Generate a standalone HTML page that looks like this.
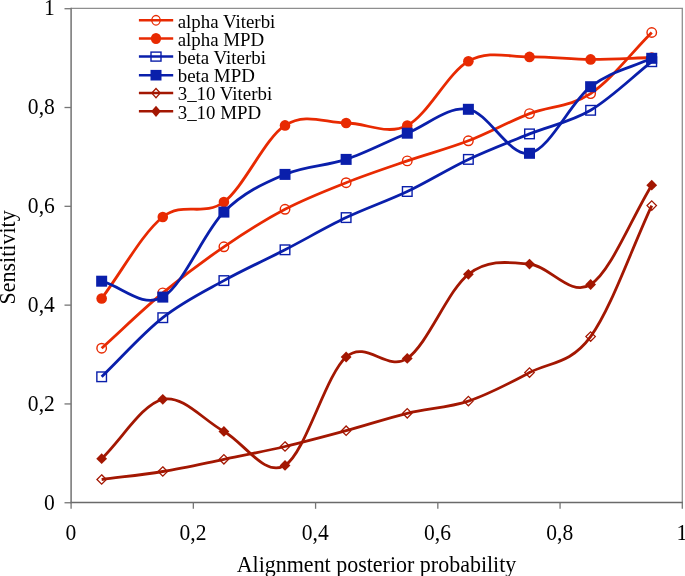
<!DOCTYPE html>
<html><head><meta charset="utf-8"><style>
html,body{margin:0;padding:0;background:#fff;}
body{width:685px;height:576px;overflow:hidden;}
svg{display:block;font-family:"Liberation Serif",serif;will-change:transform;}
</style></head><body>
<svg width="685" height="576" viewBox="0 0 685 576">

<line x1="71.1" y1="8.45" x2="683.0" y2="8.45" stroke="#8e8e8e" stroke-width="1.3"/>
<line x1="682.3" y1="8.45" x2="682.3" y2="502.5" stroke="#8e8e8e" stroke-width="1.3"/>
<line x1="71.1" y1="7.85" x2="71.1" y2="503.3" stroke="#727272" stroke-width="1.5"/>
<line x1="70.39999999999999" y1="502.5" x2="683.0" y2="502.5" stroke="#6a6a6a" stroke-width="1.6"/>
<line x1="64.5" y1="502.75" x2="71.10" y2="502.75" stroke="#767676" stroke-width="1.3"/>
<text transform="translate(54.8 509.50) scale(0.98 1.075)" font-size="22" text-anchor="end" fill="#000">0</text>
<line x1="64.5" y1="403.94" x2="71.10" y2="403.94" stroke="#767676" stroke-width="1.3"/>
<text transform="translate(54.8 410.69) scale(0.98 1.075)" font-size="22" text-anchor="end" fill="#000">0,2</text>
<line x1="64.5" y1="305.13" x2="71.10" y2="305.13" stroke="#767676" stroke-width="1.3"/>
<text transform="translate(54.8 311.88) scale(0.98 1.075)" font-size="22" text-anchor="end" fill="#000">0,4</text>
<line x1="64.5" y1="206.32" x2="71.10" y2="206.32" stroke="#767676" stroke-width="1.3"/>
<text transform="translate(54.8 213.07) scale(0.98 1.075)" font-size="22" text-anchor="end" fill="#000">0,6</text>
<line x1="64.5" y1="107.51" x2="71.10" y2="107.51" stroke="#767676" stroke-width="1.3"/>
<text transform="translate(54.8 114.26) scale(0.98 1.075)" font-size="22" text-anchor="end" fill="#000">0,8</text>
<line x1="64.5" y1="8.70" x2="71.10" y2="8.70" stroke="#767676" stroke-width="1.3"/>
<text transform="translate(54.8 15.45) scale(0.98 1.075)" font-size="22" text-anchor="end" fill="#000">1</text>
<line x1="71.10" y1="502.50" x2="71.10" y2="508.8" stroke="#767676" stroke-width="1.3"/>
<text transform="translate(70.80 540.2) scale(0.98 1.075)" font-size="22" text-anchor="middle" fill="#000">0</text>
<line x1="193.34" y1="502.50" x2="193.34" y2="508.8" stroke="#767676" stroke-width="1.3"/>
<text transform="translate(193.04 540.2) scale(0.98 1.075)" font-size="22" text-anchor="middle" fill="#000">0,2</text>
<line x1="315.58" y1="502.50" x2="315.58" y2="508.8" stroke="#767676" stroke-width="1.3"/>
<text transform="translate(315.28 540.2) scale(0.98 1.075)" font-size="22" text-anchor="middle" fill="#000">0,4</text>
<line x1="437.82" y1="502.50" x2="437.82" y2="508.8" stroke="#767676" stroke-width="1.3"/>
<text transform="translate(437.52 540.2) scale(0.98 1.075)" font-size="22" text-anchor="middle" fill="#000">0,6</text>
<line x1="560.06" y1="502.50" x2="560.06" y2="508.8" stroke="#767676" stroke-width="1.3"/>
<text transform="translate(559.76 540.2) scale(0.98 1.075)" font-size="22" text-anchor="middle" fill="#000">0,8</text>
<line x1="682.30" y1="502.50" x2="682.30" y2="508.8" stroke="#767676" stroke-width="1.3"/>
<text transform="translate(682.00 540.2) scale(0.98 1.075)" font-size="22" text-anchor="middle" fill="#000">1</text>
<text transform="translate(376.5 572.0) scale(1 1.08)" font-size="22" text-anchor="middle" fill="#000">Alignment posterior probability</text>
<text transform="translate(15.3 257.4) rotate(-90) scale(1 1.06)" font-size="22" text-anchor="middle" fill="#000">Sensitivity</text>
<path d="M101.66 348.20 C122.03 329.77 142.41 309.80 162.78 292.90 C183.15 276.00 203.53 260.73 223.90 246.80 C244.27 232.87 264.65 219.98 285.02 209.30 C305.39 198.62 325.77 190.77 346.14 182.70 C366.51 174.63 386.89 167.88 407.26 160.90 C427.63 153.92 448.01 148.68 468.38 140.80 C488.75 132.92 509.13 121.47 529.50 113.60 C549.87 105.73 570.25 107.12 590.62 93.60 C610.99 80.08 631.37 52.87 651.74 32.50" fill="none" stroke="#e82a02" stroke-width="2.8" stroke-linejoin="round"/>
<circle cx="101.66" cy="348.20" r="4.75" fill="none" stroke="#e82a02" stroke-width="1.4"/>
<circle cx="162.78" cy="292.90" r="4.75" fill="none" stroke="#e82a02" stroke-width="1.4"/>
<circle cx="223.90" cy="246.80" r="4.75" fill="none" stroke="#e82a02" stroke-width="1.4"/>
<circle cx="285.02" cy="209.30" r="4.75" fill="none" stroke="#e82a02" stroke-width="1.4"/>
<circle cx="346.14" cy="182.70" r="4.75" fill="none" stroke="#e82a02" stroke-width="1.4"/>
<circle cx="407.26" cy="160.90" r="4.75" fill="none" stroke="#e82a02" stroke-width="1.4"/>
<circle cx="468.38" cy="140.80" r="4.75" fill="none" stroke="#e82a02" stroke-width="1.4"/>
<circle cx="529.50" cy="113.60" r="4.75" fill="none" stroke="#e82a02" stroke-width="1.4"/>
<circle cx="590.62" cy="93.60" r="4.75" fill="none" stroke="#e82a02" stroke-width="1.4"/>
<circle cx="651.74" cy="32.50" r="4.75" fill="none" stroke="#e82a02" stroke-width="1.4"/>
<path d="M101.66 298.50 C122.03 271.33 142.41 233.08 162.78 217.00 C183.15 200.92 203.53 217.27 223.90 202.00 C244.27 186.73 264.65 138.57 285.02 125.40 C305.39 112.23 325.77 122.98 346.14 123.00 C366.51 123.02 386.89 135.80 407.26 125.50 C427.63 115.20 448.01 72.63 468.38 61.20 C488.75 49.77 509.13 57.20 529.50 56.90 C549.87 56.60 570.25 59.30 590.62 59.40 C610.99 59.50 631.37 58.13 651.74 57.50" fill="none" stroke="#e82a02" stroke-width="2.8" stroke-linejoin="round"/>
<circle cx="101.66" cy="298.50" r="5.3" fill="#e82a02"/>
<circle cx="162.78" cy="217.00" r="5.3" fill="#e82a02"/>
<circle cx="223.90" cy="202.00" r="5.3" fill="#e82a02"/>
<circle cx="285.02" cy="125.40" r="5.3" fill="#e82a02"/>
<circle cx="346.14" cy="123.00" r="5.3" fill="#e82a02"/>
<circle cx="407.26" cy="125.50" r="5.3" fill="#e82a02"/>
<circle cx="468.38" cy="61.20" r="5.3" fill="#e82a02"/>
<circle cx="529.50" cy="56.90" r="5.3" fill="#e82a02"/>
<circle cx="590.62" cy="59.40" r="5.3" fill="#e82a02"/>
<circle cx="651.74" cy="57.50" r="5.3" fill="#e82a02"/>
<path d="M101.66 376.80 C122.03 357.10 142.41 333.73 162.78 317.70 C183.15 301.67 203.53 291.92 223.90 280.60 C244.27 269.28 264.65 260.30 285.02 249.80 C305.39 239.30 325.77 227.32 346.14 217.60 C366.51 207.88 386.89 201.20 407.26 191.50 C427.63 181.80 448.01 169.00 468.38 159.40 C488.75 149.80 509.13 142.08 529.50 133.90 C549.87 125.72 570.25 122.33 590.62 110.30 C610.99 98.27 631.37 77.90 651.74 61.70" fill="none" stroke="#0a1fab" stroke-width="2.8" stroke-linejoin="round"/>
<rect x="96.86" y="372.00" width="9.60" height="9.60" fill="none" stroke="#0a1fab" stroke-width="1.4"/>
<rect x="157.98" y="312.90" width="9.60" height="9.60" fill="none" stroke="#0a1fab" stroke-width="1.4"/>
<rect x="219.10" y="275.80" width="9.60" height="9.60" fill="none" stroke="#0a1fab" stroke-width="1.4"/>
<rect x="280.22" y="245.00" width="9.60" height="9.60" fill="none" stroke="#0a1fab" stroke-width="1.4"/>
<rect x="341.34" y="212.80" width="9.60" height="9.60" fill="none" stroke="#0a1fab" stroke-width="1.4"/>
<rect x="402.46" y="186.70" width="9.60" height="9.60" fill="none" stroke="#0a1fab" stroke-width="1.4"/>
<rect x="463.58" y="154.60" width="9.60" height="9.60" fill="none" stroke="#0a1fab" stroke-width="1.4"/>
<rect x="524.70" y="129.10" width="9.60" height="9.60" fill="none" stroke="#0a1fab" stroke-width="1.4"/>
<rect x="585.82" y="105.50" width="9.60" height="9.60" fill="none" stroke="#0a1fab" stroke-width="1.4"/>
<rect x="646.94" y="56.90" width="9.60" height="9.60" fill="none" stroke="#0a1fab" stroke-width="1.4"/>
<path d="M101.66 281.20 C122.03 286.50 142.41 308.62 162.78 297.10 C183.15 285.58 203.53 232.55 223.90 212.10 C244.27 191.65 264.65 183.18 285.02 174.40 C305.39 165.62 325.77 166.27 346.14 159.40 C366.51 152.53 386.89 141.55 407.26 133.20 C427.63 124.85 448.01 105.95 468.38 109.30 C488.75 112.65 509.13 157.07 529.50 153.30 C549.87 149.53 570.25 102.53 590.62 86.70 C610.99 70.87 631.37 67.77 651.74 58.30" fill="none" stroke="#0a1fab" stroke-width="2.8" stroke-linejoin="round"/>
<rect x="96.16" y="275.70" width="11.00" height="11.00" fill="#0a1fab"/>
<rect x="157.28" y="291.60" width="11.00" height="11.00" fill="#0a1fab"/>
<rect x="218.40" y="206.60" width="11.00" height="11.00" fill="#0a1fab"/>
<rect x="279.52" y="168.90" width="11.00" height="11.00" fill="#0a1fab"/>
<rect x="340.64" y="153.90" width="11.00" height="11.00" fill="#0a1fab"/>
<rect x="401.76" y="127.70" width="11.00" height="11.00" fill="#0a1fab"/>
<rect x="462.88" y="103.80" width="11.00" height="11.00" fill="#0a1fab"/>
<rect x="524.00" y="147.80" width="11.00" height="11.00" fill="#0a1fab"/>
<rect x="585.12" y="81.20" width="11.00" height="11.00" fill="#0a1fab"/>
<rect x="646.24" y="52.80" width="11.00" height="11.00" fill="#0a1fab"/>
<path d="M101.66 479.50 C122.03 476.83 142.41 474.87 162.78 471.50 C183.15 468.13 203.53 463.47 223.90 459.30 C244.27 455.13 264.65 451.27 285.02 446.50 C305.39 441.73 325.77 436.23 346.14 430.70 C366.51 425.17 386.89 418.23 407.26 413.30 C427.63 408.37 448.01 407.88 468.38 401.10 C488.75 394.32 509.13 383.35 529.50 372.60 C549.87 361.85 570.25 364.43 590.62 336.60 C610.99 308.77 631.37 249.27 651.74 205.60" fill="none" stroke="#a31702" stroke-width="2.8" stroke-linejoin="round"/>
<path d="M101.66 474.80L106.36 479.50L101.66 484.20L96.96 479.50Z" fill="none" stroke="#a31702" stroke-width="1.3"/>
<path d="M162.78 466.80L167.48 471.50L162.78 476.20L158.08 471.50Z" fill="none" stroke="#a31702" stroke-width="1.3"/>
<path d="M223.90 454.60L228.60 459.30L223.90 464.00L219.20 459.30Z" fill="none" stroke="#a31702" stroke-width="1.3"/>
<path d="M285.02 441.80L289.72 446.50L285.02 451.20L280.32 446.50Z" fill="none" stroke="#a31702" stroke-width="1.3"/>
<path d="M346.14 426.00L350.84 430.70L346.14 435.40L341.44 430.70Z" fill="none" stroke="#a31702" stroke-width="1.3"/>
<path d="M407.26 408.60L411.96 413.30L407.26 418.00L402.56 413.30Z" fill="none" stroke="#a31702" stroke-width="1.3"/>
<path d="M468.38 396.40L473.08 401.10L468.38 405.80L463.68 401.10Z" fill="none" stroke="#a31702" stroke-width="1.3"/>
<path d="M529.50 367.90L534.20 372.60L529.50 377.30L524.80 372.60Z" fill="none" stroke="#a31702" stroke-width="1.3"/>
<path d="M590.62 331.90L595.32 336.60L590.62 341.30L585.92 336.60Z" fill="none" stroke="#a31702" stroke-width="1.3"/>
<path d="M651.74 200.90L656.44 205.60L651.74 210.30L647.04 205.60Z" fill="none" stroke="#a31702" stroke-width="1.3"/>
<path d="M101.66 458.70 C122.03 438.90 142.41 403.85 162.78 399.30 C183.15 394.75 203.53 420.38 223.90 431.40 C244.27 442.42 264.65 477.80 285.02 465.40 C305.39 453.00 325.77 374.83 346.14 357.00 C366.51 339.17 386.89 372.18 407.26 358.40 C427.63 344.62 448.01 290.02 468.38 274.30 C488.75 258.58 509.13 262.40 529.50 264.10 C549.87 265.80 570.25 297.65 590.62 284.50 C610.99 271.35 631.37 218.30 651.74 185.20" fill="none" stroke="#a31702" stroke-width="2.8" stroke-linejoin="round"/>
<path d="M101.66 453.30L107.06 458.70L101.66 464.10L96.26 458.70Z" fill="#a31702"/>
<path d="M162.78 393.90L168.18 399.30L162.78 404.70L157.38 399.30Z" fill="#a31702"/>
<path d="M223.90 426.00L229.30 431.40L223.90 436.80L218.50 431.40Z" fill="#a31702"/>
<path d="M285.02 460.00L290.42 465.40L285.02 470.80L279.62 465.40Z" fill="#a31702"/>
<path d="M346.14 351.60L351.54 357.00L346.14 362.40L340.74 357.00Z" fill="#a31702"/>
<path d="M407.26 353.00L412.66 358.40L407.26 363.80L401.86 358.40Z" fill="#a31702"/>
<path d="M468.38 268.90L473.78 274.30L468.38 279.70L462.98 274.30Z" fill="#a31702"/>
<path d="M529.50 258.70L534.90 264.10L529.50 269.50L524.10 264.10Z" fill="#a31702"/>
<path d="M590.62 279.10L596.02 284.50L590.62 289.90L585.22 284.50Z" fill="#a31702"/>
<path d="M651.74 179.80L657.14 185.20L651.74 190.60L646.34 185.20Z" fill="#a31702"/>
<line x1="138.9" y1="20.3" x2="173.2" y2="20.3" stroke="#e82a02" stroke-width="2.5"/>
<ellipse cx="156.00" cy="20.30" rx="4.2" ry="4.8" fill="none" stroke="#e82a02" stroke-width="1.3"/>
<text x="177.7" y="27.50" font-size="18.9" fill="#000">alpha Viterbi</text>
<line x1="138.9" y1="38.5" x2="173.2" y2="38.5" stroke="#e82a02" stroke-width="2.5"/>
<ellipse cx="156.00" cy="38.50" rx="5.1" ry="5.5" fill="#e82a02"/>
<text x="177.7" y="45.70" font-size="18.9" fill="#000">alpha MPD</text>
<line x1="138.9" y1="56.6" x2="173.2" y2="56.6" stroke="#0a1fab" stroke-width="2.5"/>
<rect x="151.00" y="52.10" width="10.00" height="9.00" fill="none" stroke="#0a1fab" stroke-width="1.4"/>
<text x="177.7" y="63.80" font-size="18.9" fill="#000">beta Viterbi</text>
<line x1="138.9" y1="75.2" x2="173.2" y2="75.2" stroke="#0a1fab" stroke-width="2.5"/>
<rect x="150.50" y="69.90" width="11.00" height="10.60" fill="#0a1fab"/>
<text x="177.7" y="82.40" font-size="18.9" fill="#000">beta MPD</text>
<line x1="138.9" y1="93.1" x2="173.2" y2="93.1" stroke="#a31702" stroke-width="2.5"/>
<path d="M156.00 88.50L160.20 93.10L156.00 97.70L151.80 93.10Z" fill="none" stroke="#a31702" stroke-width="1.3"/>
<text x="177.7" y="100.30" font-size="18.9" fill="#000">3_10 Viterbi</text>
<line x1="138.9" y1="111.3" x2="173.2" y2="111.3" stroke="#a31702" stroke-width="2.5"/>
<path d="M156.00 105.70L160.80 111.30L156.00 116.90L151.20 111.30Z" fill="#a31702"/>
<text x="177.7" y="118.50" font-size="18.9" fill="#000">3_10 MPD</text>
</svg></body></html>
